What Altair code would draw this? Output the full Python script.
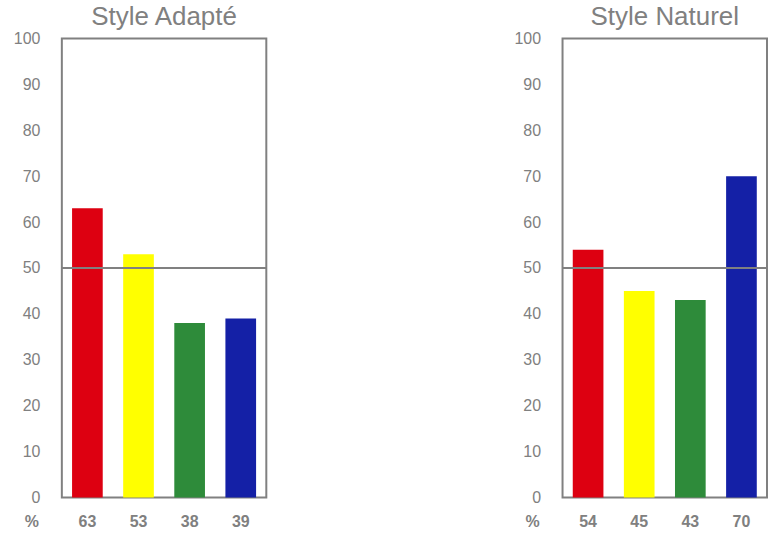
import altair as alt
import pandas as pd

# Colour groups and their scores for each style
colors = ["rouge", "jaune", "vert", "bleu"]
palette = ["#DD0011", "#FFFF00", "#2E8B3A", "#1420A6"]
adapte = [63, 53, 38, 39]
naturel = [54, 45, 43, 70]
titles = ["Style Adapté", "Style Naturel"]
y_ticks = list(range(0, 101, 10))
reference_level = 50

GRAY = "#808080"
FONT = "Liberation Sans"
W, H = 205, 460


def panel(title, values):
    df = pd.DataFrame({"couleur": colors, "valeur": values})
    x = alt.X(
        "couleur:N",
        sort=colors,
        axis=None,
        scale=alt.Scale(paddingInner=0.4, paddingOuter=0.2),
    )
    y_axis = alt.Axis(
        values=y_ticks,
        title=None,
        grid=False,
        ticks=False,
        domain=False,
        labelColor=GRAY,
        labelFontSize=16,
        labelFont=FONT,
        labelPadding=22,
    )
    base = alt.Chart(df)
    bars = base.mark_bar().encode(
        x=x,
        y=alt.Y("valeur:Q", scale=alt.Scale(domain=[0, 100]), axis=y_axis),
        color=alt.Color(
            "couleur:N",
            scale=alt.Scale(domain=colors, range=palette),
            legend=None,
        ),
    )
    rule = (
        alt.Chart(pd.DataFrame({"niveau": [reference_level]}))
        .mark_rule(color=GRAY, strokeWidth=2)
        .encode(y=alt.Y("niveau:Q", axis=y_axis))
    )
    values_text = base.mark_text(
        fontWeight="bold", fontSize=16, color=GRAY, font=FONT, baseline="middle"
    ).encode(x=x, y=alt.value(H + 25), text="valeur:Q")
    pct = (
        alt.Chart(pd.DataFrame({"t": ["%"]}))
        .mark_text(
            fontWeight="bold", fontSize=16, color=GRAY, font=FONT, baseline="middle"
        )
        .encode(x=alt.value(-30), y=alt.value(H + 25), text="t:N")
    )
    return alt.layer(bars, rule, values_text, pct).properties(
        width=W,
        height=H,
        title=alt.TitleParams(
            title,
            fontSize=26,
            color=GRAY,
            font=FONT,
            fontWeight="normal",
            offset=1,
        ),
    )


chart = (
    alt.hconcat(panel(titles[0], adapte), panel(titles[1], naturel), spacing=245)
    .properties(padding={"left": 12, "top": 2, "right": 0, "bottom": 0})
    .configure_view(stroke=GRAY, strokeWidth=2)
)

chart.save("out.html", embed_options={"renderer": "svg", "actions": False})
